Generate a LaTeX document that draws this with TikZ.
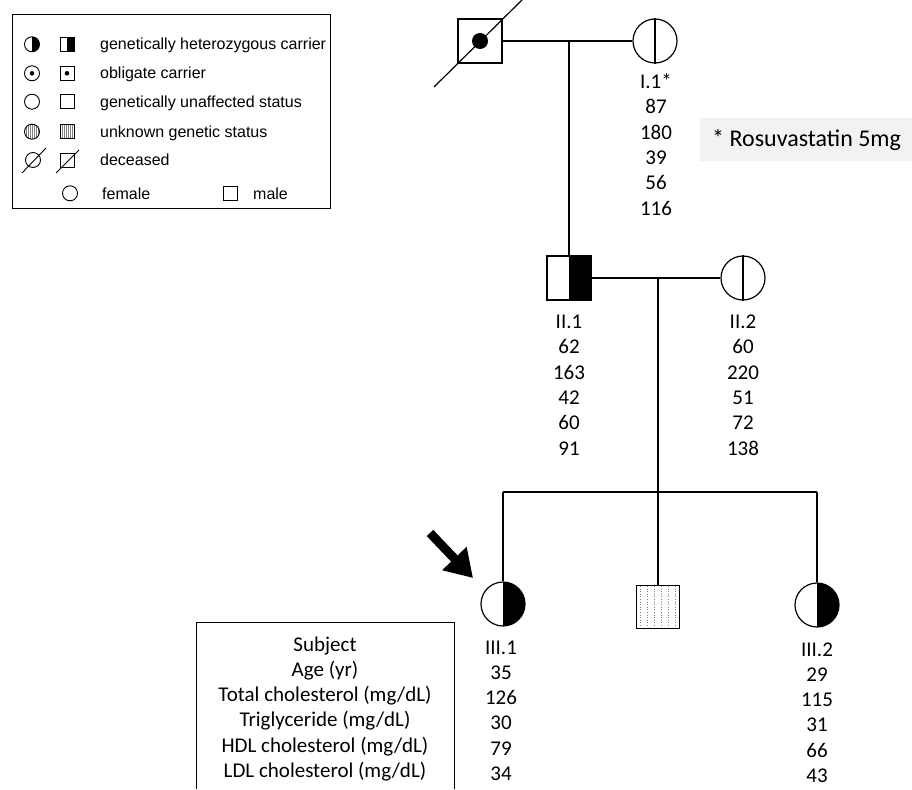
\documentclass[tikz,border=0pt]{standalone}
\usepackage{fontspec}
\setmainfont{Carlito}
\newfontfamily\arialf{Liberation Sans}
\usetikzlibrary{arrows.meta}
\begin{document}
\begin{tikzpicture}[x=1pt,y=-1pt,
  ln/.style={line width=1.2pt},
  sq/.style={draw, line width=1.2pt, minimum size=44pt, inner sep=0pt},
  ci/.style={draw, circle, line width=1.2pt, minimum size=44pt, inner sep=0pt},
  lsq/.style={draw, line width=0.9pt, minimum size=14pt, inner sep=0pt},
  lci/.style={draw, circle, line width=0.9pt, minimum size=15pt, inner sep=0pt},
  lab/.style={font=\fontsize{21}{25}\selectfont, anchor=base, inner sep=0pt},
  leg/.style={font=\arialf\fontsize{16}{19}\selectfont, anchor=base west, inner sep=0pt},
  hatch/.style={gray, line width=0.5pt},
  dots/.style={gray, dotted, line width=0.6pt}]
\useasboundingbox (0,0) rectangle (912,789);

% ---------------- legend ----------------
\draw[line width=1pt] (12,15) rectangle (330,208);
% row 1: heterozygous
\begin{scope}\clip (32,30) rectangle (45,60); \fill (32,44.3) circle (7.5pt);\end{scope}
\node[lci] (lc1) at (32,44.3) {};
\fill (67,37.3) rectangle (74,51.3);
\node[lsq] (ls1) at (67,44.3) {};
\node[leg] (lt1) at (100,50) {genetically heterozygous carrier};
% row 2: obligate
\node[lci] (lc2) at (32,73.3) {};
\fill (lc2.center) circle (2.3pt);
\node[lsq] (ls2) at (67,73.3) {};
\fill (ls2.center) circle (2.3pt);
\node[leg] (lt2) at (100,79) {obligate carrier};
% row 3: unaffected
\node[lci] (lc3) at (32,101.7) {};
\node[lsq] (ls3) at (67,101.7) {};
\node[leg] (lt3) at (100,107.4) {genetically unaffected status};
% row 4: unknown
\begin{scope}\clip (32,131.7) circle (7.5pt);
  \foreach \dx in {-6,-4,...,6} \draw[hatch] (32+\dx,122) -- (32+\dx,142);
\end{scope}
\node[lci] (lc4) at (32,131.7) {};
\foreach \dx in {-5,-3,...,5} \draw[hatch] (67+\dx,124.7) -- (67+\dx,138.7);
\node[lsq] (ls4) at (67,131.7) {};
\node[leg] (lt4) at (100,137.4) {unknown genetic status};
% row 5: deceased
\node[lci] (lc5) at (33,160) {};
\coordinate (lc5a) at (22,173); \coordinate (lc5b) at (46,148);
\draw[line width=0.9pt] (lc5a) -- (lc5b);
\node[lsq] (ls5) at (67,160) {};
\coordinate (ls5a) at (56,173); \coordinate (ls5b) at (79,150);
\draw[line width=0.9pt] (ls5a) -- (ls5b);
\node[leg] (lt5) at (100,165.7) {deceased};
% row 6
\node[lci] (lc6) at (70,193.3) {};
\node[leg] (lt6) at (102,199) {female};
\node[lsq] (ls6) at (230,193.3) {};
\node[leg] (lt7) at (253,199) {male};

% ---------------- generation I ----------------
\node[sq] (f1) at (480,41) {};
\fill (f1.center) circle (8pt);
\coordinate (dg1) at (434,87); \coordinate (dg2) at (522,0);
\draw[ln] (dg1) -- (dg2);
\node[ci] (m1) at (655,41) {};
\draw[ln] (m1.north) -- (m1.south);
\draw[ln] (f1.east) -- (m1.west);
\coordinate (d1) at (569,41);

% ---------------- generation II ----------------
\fill (569,256) rectangle (591,300);
\node[sq] (ii1) at (569,278) {};
\node[ci] (ii2) at (743,278) {};
\draw[ln] (ii2.north) -- (ii2.south);
\draw[ln] (d1) -- (ii1.north);
\draw[ln] (ii1.east) -- (ii2.west);
\coordinate (d2) at (658,278);
\coordinate (sL) at (503,492);
\coordinate (sM) at (658,492);
\coordinate (sR) at (817,492);
\draw[ln] (d2) -- (sM);
\draw[ln] (sL) -- (sR);

% ---------------- generation III ----------------
\begin{scope}\clip (503,570) rectangle (540,640); \fill (503,604) circle (22pt);\end{scope}
\node[ci] (iii1) at (503,604) {};
\foreach \dx in {-18,-11,-4,3,10,17} \draw[dots] (658+\dx,586) -- (658+\dx,628);
\node[sq, minimum size=43pt] (iii2) at (658,607) {};
\begin{scope}\clip (817,570) rectangle (850,640); \fill (817,605) circle (22pt);\end{scope}
\node[ci] (iii3) at (817,605) {};
\draw[ln] (sL) -- (iii1.north);
\draw[ln] (sM) -- (iii2.north);
\draw[ln] (sR) -- (iii3.north);

% proband arrow
\coordinate (at) at (430,533);
\coordinate (ah) at (473,578);
\draw[line width=9pt, -{Triangle[length=27pt,width=32pt]}] (at) -- (ah);

% ---------------- labels ----------------
\foreach \t [count=\i] in {I.1*,87,180,39,56,116}
  \node[lab] (la\i) at (656,{82+(\i-1)*25.3+6.6}) {\t};
\foreach \t [count=\i] in {II.1,62,163,42,60,91}
  \node[lab] (lb\i) at (569,{322+(\i-1)*25.3+6.6}) {\t};
\foreach \t [count=\i] in {II.2,60,220,51,72,138}
  \node[lab] (lc\i) at (743,{322+(\i-1)*25.3+6.6}) {\t};
\foreach \t [count=\i] in {III.1,35,126,30,79,34}
  \node[lab] (ld\i) at (501,{648+(\i-1)*25.1+6.6}) {\t};
\foreach \t [count=\i] in {III.2,29,115,31,66,43}
  \node[lab] (le\i) at (817,{650+(\i-1)*25.1+6.6}) {\t};

% note box
\node[fill=black!5, minimum width=212pt, minimum height=43pt, inner sep=0pt] (note) at (806,139.5) {};
\node[font=\fontsize{24}{29}\selectfont, anchor=base west, inner sep=0pt] (notet) at (712,146.5) {* Rosuvastatin 5mg};

% key box at bottom
\coordinate (k1) at (196,789); \coordinate (k2) at (196,622);
\coordinate (k3) at (454,622); \coordinate (k4) at (454,789);
\draw[line width=1pt] (k1) -- (k2) -- (k3) -- (k4);
\foreach \t [count=\i] in {Subject,Age (yr),Total cholesterol (mg/dL),Triglyceride (mg/dL),HDL cholesterol (mg/dL),LDL cholesterol (mg/dL)}
  \node[lab] (lk\i) at (325,{645+(\i-1)*25.1+6.6}) {\t};
\end{tikzpicture}
\end{document}
